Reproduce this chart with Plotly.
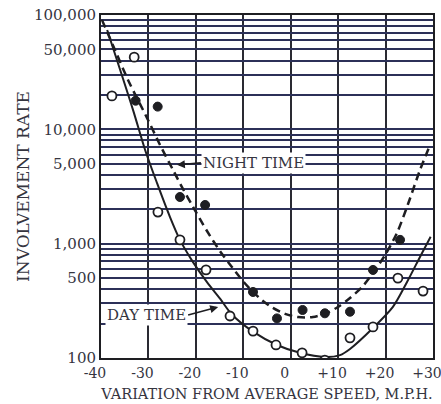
import math
import plotly.graph_objects as go

# ---- data ----
day_curve_x = [-38.7, -33.25, -30.7, -28.2, -25.45, -23.35, -20.6, -17.65, -14.9, -12.4,
               -7.95, -2.9, 1.95, 7.2, 10.4, 12.5, 17.35, 21.55, 24.5, 27.25, 29.5]
day_curve_y = [74000, 14800, 6600, 3400, 1710, 1080, 690, 460, 330, 240,
               170, 130, 111, 102, 106, 120, 183, 280, 460, 765, 1150]

night_curve_x = [-39.8, -37.05, -34.3, -30.3, -27.55, -24.8, -22.7, -20.6, -17.65, -14.9,
                 -12.4, -10.05, -7.95, -5.85, -3.75, -1.2, 1.55, 4.7, 7.65, 9.95,
                 12.5, 15.05, 17.35, 19.9, 22.4, 24.7, 27.25, 29.2]
night_curve_y = [90600, 49500, 27000, 12600, 7300, 4400, 3000, 2100, 1290, 860,
                 625, 470, 378, 315, 274, 243, 228, 228, 248, 279,
                 335, 418, 554, 796, 1240, 2200, 4400, 7000]

day_x = [-37.7, -33.0, -28.0, -23.35, -17.85, -12.8, -7.95, -3.1, 2.4, 7.2, 12.5, 17.35, 22.6, 27.9]
day_y = [19600, 42800, 1890, 1080, 590, 233, 172, 130, 111, 96, 150, 187, 500, 385]

night_x = [-32.7, -28.05, -23.35, -18.05, -7.95, -2.9, 2.5, 7.2, 12.5, 17.35, 23.05]
night_y = [17800, 15800, 2560, 2180, 378, 222, 263, 246, 254, 589, 1080]

x_tick_vals = [-40, -30, -20, -10, 0, 10, 20, 30]
x_tick_text = ["-40", "-30", "-20", "-10", "0", "+10", "+20", "+30"]

y_tick_vals = [100, 200, 300, 400, 500, 600, 700, 800, 900,
               1000, 2000, 3000, 4000, 5000, 6000, 7000, 8000, 9000,
               10000, 20000, 30000, 40000, 50000, 60000, 70000, 80000, 90000, 100000]
y_tick_labels = {100: "100", 500: "500", 1000: "1,000", 5000: "5,000",
                 10000: "10,000", 50000: "50,000", 100000: "100,000"}
y_tick_text = [y_tick_labels.get(v, "") for v in y_tick_vals]

label_night = "NIGHT TIME"
label_night_at = (-24.0, 4890)
label_day = "DAY TIME"
label_day_at = (-15.3, 279)

# ---- figure ----
FONT = "DejaVu Serif"
TXT = "#35353f"
INK = "#1e1e22"

fig = go.Figure()
fig.add_trace(go.Scatter(x=day_curve_x, y=day_curve_y, mode="lines",
                         line=dict(color=INK, width=2, shape="spline", smoothing=0.8),
                         hoverinfo="skip"))
fig.add_trace(go.Scatter(x=night_curve_x, y=night_curve_y, mode="lines",
                         line=dict(color=INK, width=2.5, dash="8px,5px", shape="spline", smoothing=0.8),
                         hoverinfo="skip"))
fig.add_trace(go.Scatter(x=day_x, y=day_y, mode="markers",
                         marker=dict(symbol="circle", size=9, color="white",
                                     line=dict(color=INK, width=1.8))))
fig.add_trace(go.Scatter(x=night_x, y=night_y, mode="markers",
                         marker=dict(symbol="circle", size=9, color=INK,
                                     line=dict(color=INK, width=1))))

fig.add_annotation(x=label_night_at[0], y=math.log10(label_night_at[1]),
                   text=label_night, showarrow=True, ax=24, ay=-2,
                   xanchor="left", yanchor="middle",
                   arrowhead=2, arrowsize=1, arrowwidth=1.6, arrowcolor=INK,
                   bgcolor="white", borderpad=1,
                   font=dict(family=FONT, size=15, color=TXT))
fig.add_annotation(x=label_day_at[0], y=math.log10(label_day_at[1]),
                   text=label_day, showarrow=True, ax=-30, ay=8,
                   xanchor="right", yanchor="middle",
                   arrowhead=2, arrowsize=1, arrowwidth=1.6, arrowcolor=INK,
                   bgcolor="white", borderpad=1,
                   font=dict(family=FONT, size=15, color=TXT))

fig.update_layout(
    width=441, height=404,
    margin=dict(l=101, r=8, t=15, b=46),
    paper_bgcolor="white", plot_bgcolor="white",
    showlegend=False,
    font=dict(family=FONT, color=TXT),
    xaxis=dict(range=[-40, 30], tickvals=x_tick_vals, ticktext=x_tick_text,
               automargin=False,
               showgrid=True, gridcolor="#2a2a33", gridwidth=1.5, zeroline=False,
               showline=True, linecolor=INK, linewidth=2, mirror=True,
               ticks="", ticklabelshift=-6, ticklabelstandoff=1, ticklabeloverflow="allow",
               tickfont=dict(family=FONT, size=14, color=TXT),
               title=dict(text="VARIATION FROM AVERAGE SPEED, M.P.H.",
                          font=dict(family=FONT, size=14.5, color=TXT), standoff=9)),
    yaxis=dict(type="log", range=[2, 5], tickvals=y_tick_vals, ticktext=y_tick_text,
               automargin=False,
               showgrid=True, gridcolor="#2c3058", gridwidth=1.5, zeroline=False,
               showline=True, linecolor=INK, linewidth=2, mirror=True,
               ticks="", tickfont=dict(family=FONT, size=15, color=TXT),
               title=dict(text="INVOLVEMENT RATE",
                          font=dict(family=FONT, size=17, color=TXT), standoff=0)),
)

fig.write_html("out.html", config={"displayModeBar": False},
               post_script="document.body.style.margin='0';")
